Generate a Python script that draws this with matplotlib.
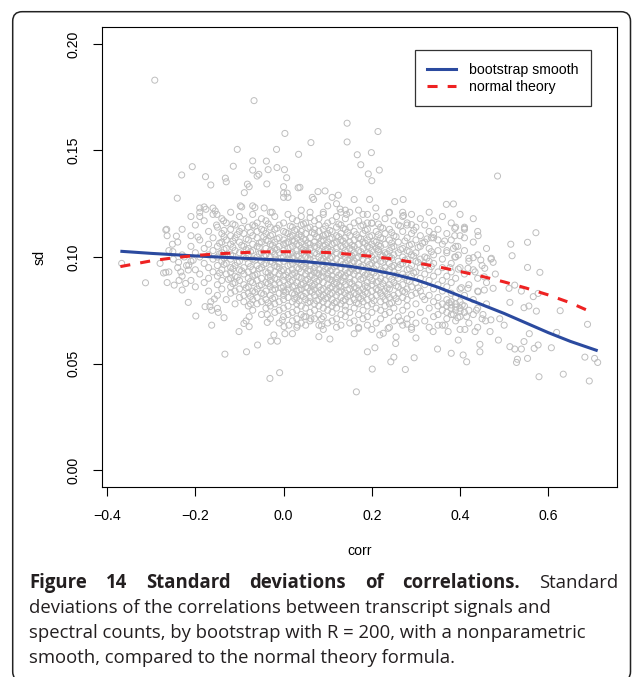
import matplotlib
matplotlib.use("Agg")
import matplotlib.pyplot as plt
from matplotlib.lines import Line2D
from matplotlib.patches import FancyBboxPatch
import numpy as np

plt.rcParams['font.family'] = ['Liberation Sans', 'DejaVu Sans']

# ---------------- data ----------------
# sparse points above the cloud (corr, sd)
upper_pts = [
    (-0.292, 0.183), (-0.067, 0.1734), (0.144, 0.1628), (0.003, 0.158), (0.062, 0.1537),
    (0.144, 0.154), (-0.105, 0.1505), (-0.016, 0.1505), (0.034, 0.1482), (0.167, 0.148),
    (-0.207, 0.1424), (-0.231, 0.1385), (-0.241, 0.1276), (-0.114, 0.1426), (-0.070, 0.1451),
    (-0.039, 0.145), (-0.070, 0.1408), (-0.035, 0.141), (-0.015, 0.142), (0.002, 0.141),
    (-0.056, 0.1388), (-0.060, 0.138), (0.007, 0.1372), (-0.177, 0.1377), (-0.165, 0.1338),
    (-0.132, 0.137), (-0.130, 0.1353), (-0.082, 0.1342), (-0.078, 0.133), (-0.038, 0.1343),
    (-0.089, 0.1302), (0.0, 0.133), (0.033, 0.1325), (0.037, 0.1327), (0.0, 0.130),
    (0.0, 0.128), (0.008, 0.130), (0.010, 0.128), (-0.190, 0.123), (-0.180, 0.1235),
    (-0.160, 0.123), (-0.190, 0.119), (-0.151, 0.120), (-0.136, 0.117), (-0.152, 0.115),
    (-0.265, 0.113), (-0.098, 0.124), (-0.095, 0.1235), (-0.070, 0.124), (-0.065, 0.1232),
    (-0.044, 0.123), (-0.026, 0.121), (0.065, 0.128), (0.068, 0.127), (0.078, 0.1307),
    (0.094, 0.131), (0.110, 0.128), (0.124, 0.129), (0.120, 0.125), (0.128, 0.1225),
    (0.130, 0.121), (0.140, 0.122), (0.143, 0.120), (0.160, 0.127), (0.090, 0.121),
    (0.100, 0.124), (0.040, 0.122), (0.060, 0.1185), (-0.176, 0.1224), (-0.155, 0.1216),
    (0.469, 0.1944), (0.214, 0.1589), (0.199, 0.149), (0.175, 0.1433), (0.217, 0.1408),
    (0.192, 0.139), (0.200, 0.1358), (0.485, 0.138), (0.195, 0.127), (0.271, 0.127),
    (0.252, 0.126), (0.209, 0.123), (0.239, 0.1208), (0.270, 0.121), (0.272, 0.1195),
    (0.369, 0.1247), (0.385, 0.1249), (0.180, 0.120), (0.190, 0.116), (0.200, 0.1158),
    (0.280, 0.115), (0.290, 0.1152), (0.390, 0.114), (0.410, 0.1135), (0.170, 0.122),
]

# sparse points left of and below the cloud
left_low_pts = [
    (-0.267, 0.1127), (-0.264, 0.110), (-0.243, 0.1098), (-0.194, 0.1094), (-0.252, 0.106),
    (-0.251, 0.1025), (-0.367, 0.097), (-0.313, 0.0879), (-0.267, 0.0928), (-0.264, 0.088),
    (-0.248, 0.0868), (-0.237, 0.089), (-0.230, 0.0845), (-0.222, 0.0876), (-0.233, 0.093),
    (-0.216, 0.0939), (-0.216, 0.0787), (-0.199, 0.0723), (-0.178, 0.0767), (-0.165, 0.079),
    (-0.167, 0.0767), (-0.163, 0.075), (-0.150, 0.0759), (-0.148, 0.074), (-0.135, 0.0715),
    (-0.163, 0.068), (-0.157, 0.0803), (-0.101, 0.065), (-0.090, 0.0688), (-0.085, 0.070),
    (-0.078, 0.072), (-0.078, 0.0673), (-0.133, 0.0544), (-0.084, 0.0555), (-0.059, 0.0587),
    (-0.031, 0.043), (-0.009, 0.0457), (-0.029, 0.0605), (-0.014, 0.0605), (-0.022, 0.0634),
    (-0.037, 0.0693), (-0.037, 0.073), (-0.003, 0.0704), (0.001, 0.0673), (0.003, 0.064),
    (0.020, 0.064), (0.012, 0.068), (0.031, 0.068), (0.050, 0.068), (0.046, 0.072),
    (0.062, 0.071), (0.080, 0.0626), (0.105, 0.0615), (0.086, 0.0677), (0.086, 0.071),
    (0.160, 0.064), (0.170, 0.0665), (0.165, 0.0367), (-0.075, 0.078), (-0.238, 0.0975),
    (-0.215, 0.0962), (-0.205, 0.0985), (-0.225, 0.100), (-0.272, 0.0925),
]

# sparse points right of and below the cloud
right_low_pts = [
    (0.572, 0.1114), (0.553, 0.1069), (0.515, 0.106), (0.518, 0.1006), (0.553, 0.0951),
    (0.581, 0.0928), (0.441, 0.110), (0.410, 0.113), (0.388, 0.1134), (0.388, 0.110),
    (0.410, 0.109), (0.340, 0.1106), (0.335, 0.109), (0.350, 0.108), (0.365, 0.1075),
    (0.370, 0.103), (0.385, 0.104), (0.395, 0.105), (0.396, 0.1009), (0.388, 0.100),
    (0.420, 0.0994), (0.430, 0.0997), (0.447, 0.0986), (0.471, 0.0994), (0.475, 0.0975),
    (0.456, 0.0947), (0.377, 0.095), (0.396, 0.0943), (0.418, 0.0947), (0.434, 0.093),
    (0.455, 0.0907), (0.475, 0.0853), (0.455, 0.0845), (0.441, 0.0837), (0.418, 0.0853),
    (0.403, 0.0856), (0.511, 0.0853), (0.524, 0.0868), (0.539, 0.084), (0.566, 0.0814),
    (0.577, 0.0829), (0.513, 0.0787), (0.545, 0.0762), (0.556, 0.077), (0.573, 0.0746),
    (0.627, 0.0748), (0.689, 0.0684), (0.619, 0.0646), (0.557, 0.064), (0.545, 0.0603),
    (0.577, 0.0587), (0.568, 0.0571), (0.607, 0.0574), (0.513, 0.0579), (0.524, 0.0568),
    (0.539, 0.0568), (0.530, 0.052), (0.528, 0.0505), (0.553, 0.0524), (0.683, 0.053),
    (0.705, 0.0524), (0.712, 0.0505), (0.634, 0.045), (0.579, 0.0438), (0.693, 0.0418),
    (0.349, 0.0568), (0.380, 0.0548), (0.407, 0.054), (0.415, 0.0508), (0.445, 0.0555),
    (0.445, 0.059), (0.468, 0.065), (0.487, 0.061), (0.296, 0.0527), (0.250, 0.053),
    (0.243, 0.0508), (0.201, 0.0474), (0.276, 0.0472), (0.190, 0.0555), (0.207, 0.0574),
    (0.254, 0.0594), (0.237, 0.0665), (0.226, 0.0642), (0.218, 0.0634), (0.490, 0.071),
    (0.500, 0.068), (0.434, 0.065), (0.411, 0.066), (0.396, 0.061), (0.373, 0.065),
    (0.339, 0.065), (0.350, 0.068), (0.366, 0.068), (0.437, 0.075), (0.452, 0.073),
    (0.458, 0.070), (0.470, 0.0705), (0.265, 0.070), (0.280, 0.0685), (0.290, 0.067),
    (0.300, 0.062), (0.255, 0.0625), (0.380, 0.0775), (0.390, 0.0765), (0.400, 0.0745),
    (0.385, 0.073), (0.405, 0.0775), (0.415, 0.072), (0.395, 0.0715),
]

# dense cloud, one row per sd level: (sd, [corr values])
core_rows = [
    (0.121, [-0.19, -0.12, -0.03, 0.06, 0.15, 0.24, 0.33]),
    (0.120, [-0.16, -0.07, 0.01, 0.09, 0.19, 0.29, 0.40]),
    (0.119, [-0.21, -0.10, -0.02, 0.04, 0.12, 0.21, 0.27, 0.36]),
    (0.118, [-0.14, -0.05, 0.02, 0.08, 0.14, 0.23, 0.31, 0.43]),
    (0.117, [-0.18, -0.09, -0.04, 0.03, 0.07, 0.11, 0.17, 0.25, 0.34]),
    (0.116, [-0.13, -0.06, 0.00, 0.05, 0.10, 0.16, 0.20, 0.28, 0.38]),
    (0.115, [-0.20, -0.11, -0.07, -0.01, 0.04, 0.08, 0.13, 0.18, 0.26, 0.32]),
    (0.114, [-0.15, -0.08, -0.03, 0.02, 0.06, 0.12, 0.15, 0.22, 0.30, 0.41]),
    (0.113, [-0.23, -0.12, -0.05, -0.02, 0.03, 0.07, 0.09, 0.14, 0.19, 0.24, 0.35]),
    (0.112, [-0.17, -0.10, -0.06, 0.00, 0.04, 0.08, 0.11, 0.16, 0.21, 0.27, 0.33, 0.44]),
    (0.111, [-0.14, -0.09, -0.04, 0.01, 0.05, 0.07, 0.10, 0.13, 0.18, 0.23, 0.29, 0.37]),
    (0.110, [-0.21, -0.12, -0.07, -0.03, 0.02, 0.04, 0.09, 0.12, 0.15, 0.20, 0.25, 0.31, 0.40]),
    (0.109, [-0.16, -0.11, -0.06, -0.01, 0.03, 0.06, 0.08, 0.11, 0.14, 0.17, 0.22, 0.28, 0.34]),
    (0.108, [-0.19, -0.13, -0.08, -0.04, 0.00, 0.02, 0.05, 0.09, 0.13, 0.16, 0.19, 0.24, 0.30, 0.38]),
    (0.107, [-0.24, -0.14, -0.10, -0.05, -0.02, 0.01, 0.04, 0.07, 0.10, 0.12, 0.15, 0.18, 0.21, 0.26, 0.32, 0.43]),
    (0.106, [-0.17, -0.12, -0.07, -0.03, 0.00, 0.03, 0.06, 0.08, 0.11, 0.14, 0.17, 0.20, 0.23, 0.29, 0.36]),
    (0.105, [-0.21, -0.15, -0.09, -0.06, -0.01, 0.02, 0.05, 0.07, 0.09, 0.13, 0.16, 0.19, 0.22, 0.25, 0.31, 0.39]),
    (0.104, [-0.18, -0.13, -0.08, -0.04, -0.02, 0.01, 0.04, 0.06, 0.10, 0.12, 0.15, 0.18, 0.21, 0.27, 0.33, 0.46]),
    (0.103, [-0.26, -0.16, -0.11, -0.07, -0.03, 0.00, 0.03, 0.05, 0.08, 0.11, 0.14, 0.17, 0.20, 0.24, 0.28, 0.35, 0.41]),
    (0.102, [-0.20, -0.14, -0.10, -0.05, -0.01, 0.02, 0.04, 0.07, 0.09, 0.12, 0.16, 0.19, 0.23, 0.26, 0.30, 0.37]),
    (0.101, [-0.23, -0.17, -0.12, -0.08, -0.04, -0.02, 0.01, 0.03, 0.06, 0.10, 0.13, 0.15, 0.18, 0.22, 0.25, 0.29, 0.34, 0.44]),
    (0.100, [-0.19, -0.15, -0.09, -0.06, -0.03, 0.00, 0.02, 0.05, 0.08, 0.11, 0.14, 0.17, 0.20, 0.24, 0.27, 0.32, 0.39]),
    (0.099, [-0.25, -0.16, -0.12, -0.07, -0.02, 0.01, 0.04, 0.06, 0.09, 0.12, 0.15, 0.18, 0.21, 0.23, 0.28, 0.31, 0.36, 0.47]),
    (0.098, [-0.21, -0.14, -0.10, -0.05, -0.03, 0.00, 0.03, 0.07, 0.10, 0.13, 0.16, 0.19, 0.22, 0.26, 0.30, 0.33, 0.42]),
    (0.097, [-0.28, -0.18, -0.13, -0.08, -0.04, -0.01, 0.02, 0.05, 0.08, 0.11, 0.14, 0.17, 0.20, 0.24, 0.27, 0.34, 0.38]),
    (0.096, [-0.22, -0.15, -0.11, -0.06, -0.02, 0.01, 0.04, 0.06, 0.09, 0.12, 0.15, 0.18, 0.21, 0.25, 0.29, 0.32, 0.45]),
    (0.095, [-0.24, -0.17, -0.12, -0.09, -0.05, -0.01, 0.03, 0.05, 0.07, 0.10, 0.13, 0.16, 0.19, 0.23, 0.26, 0.31, 0.36, 0.40]),
    (0.094, [-0.20, -0.14, -0.10, -0.07, -0.03, 0.00, 0.02, 0.06, 0.08, 0.11, 0.14, 0.17, 0.22, 0.24, 0.28, 0.33, 0.43]),
    (0.093, [-0.26, -0.16, -0.12, -0.08, -0.04, -0.02, 0.01, 0.04, 0.07, 0.09, 0.12, 0.15, 0.18, 0.20, 0.25, 0.30, 0.35, 0.38]),
    (0.092, [-0.19, -0.13, -0.09, -0.06, -0.01, 0.02, 0.05, 0.08, 0.10, 0.13, 0.16, 0.19, 0.23, 0.27, 0.32, 0.41, 0.48]),
    (0.091, [-0.23, -0.15, -0.11, -0.07, -0.03, 0.00, 0.03, 0.06, 0.09, 0.11, 0.14, 0.17, 0.21, 0.24, 0.29, 0.34, 0.37]),
    (0.090, [-0.17, -0.12, -0.08, -0.05, -0.02, 0.01, 0.04, 0.07, 0.10, 0.12, 0.15, 0.18, 0.22, 0.26, 0.31, 0.39, 0.44]),
    (0.089, [-0.21, -0.14, -0.10, -0.06, -0.03, 0.00, 0.02, 0.05, 0.08, 0.11, 0.13, 0.16, 0.20, 0.23, 0.28, 0.33, 0.36]),
    (0.088, [-0.18, -0.11, -0.07, -0.04, -0.01, 0.03, 0.06, 0.09, 0.12, 0.15, 0.19, 0.21, 0.25, 0.30, 0.38, 0.46]),
    (0.087, [-0.15, -0.09, -0.05, -0.02, 0.01, 0.04, 0.07, 0.10, 0.14, 0.17, 0.20, 0.24, 0.27, 0.32, 0.35, 0.42]),
    (0.086, [-0.20, -0.12, -0.08, -0.03, 0.00, 0.02, 0.05, 0.08, 0.11, 0.13, 0.16, 0.19, 0.22, 0.26, 0.29, 0.37]),
    (0.085, [-0.14, -0.10, -0.06, -0.02, 0.01, 0.04, 0.07, 0.09, 0.12, 0.15, 0.18, 0.21, 0.24, 0.28, 0.34, 0.40]),
    (0.084, [-0.17, -0.11, -0.07, -0.04, 0.00, 0.03, 0.06, 0.10, 0.13, 0.17, 0.20, 0.23, 0.27, 0.31, 0.36, 0.44]),
    (0.083, [-0.12, -0.08, -0.05, -0.01, 0.02, 0.05, 0.08, 0.11, 0.14, 0.16, 0.19, 0.22, 0.26, 0.30, 0.38]),
    (0.082, [-0.15, -0.09, -0.03, 0.00, 0.04, 0.07, 0.09, 0.12, 0.15, 0.18, 0.21, 0.25, 0.29, 0.33, 0.41]),
    (0.081, [-0.10, -0.06, -0.02, 0.01, 0.03, 0.06, 0.10, 0.13, 0.17, 0.20, 0.24, 0.27, 0.35, 0.39]),
    (0.080, [-0.13, -0.07, -0.04, 0.00, 0.05, 0.08, 0.11, 0.14, 0.16, 0.19, 0.23, 0.28, 0.32, 0.37, 0.43]),
    (0.079, [-0.09, -0.05, -0.01, 0.02, 0.06, 0.09, 0.12, 0.15, 0.18, 0.22, 0.26, 0.34, 0.38, 0.40]),
    (0.078, [-0.11, -0.06, -0.02, 0.03, 0.07, 0.10, 0.13, 0.17, 0.20, 0.24, 0.30, 0.36, 0.39, 0.46]),
    (0.077, [-0.08, -0.03, 0.01, 0.04, 0.08, 0.11, 0.14, 0.19, 0.23, 0.28, 0.35, 0.37, 0.41]),
    (0.076, [-0.04, 0.00, 0.05, 0.09, 0.12, 0.16, 0.21, 0.25, 0.33, 0.38, 0.40, 0.44]),
    (0.075, [-0.07, -0.01, 0.03, 0.07, 0.10, 0.14, 0.18, 0.22, 0.27, 0.36, 0.39, 0.42]),
    (0.074, [-0.02, 0.02, 0.06, 0.11, 0.15, 0.20, 0.24, 0.31, 0.37, 0.41]),
    (0.073, [-0.05, 0.01, 0.04, 0.08, 0.13, 0.17, 0.23, 0.29, 0.35, 0.38, 0.43]),
    (0.072, [0.00, 0.05, 0.09, 0.14, 0.19, 0.26, 0.34, 0.40]),
    (0.071, [-0.03, 0.03, 0.07, 0.12, 0.18, 0.22, 0.28, 0.37, 0.45]),
    (0.070, [0.02, 0.06, 0.11, 0.16, 0.25, 0.32, 0.39]),
    (0.069, [-0.01, 0.04, 0.10, 0.15, 0.21, 0.30, 0.42]),
    (0.068, [0.08, 0.13, 0.19, 0.27, 0.36]),
    (0.067, [0.03, 0.12, 0.17, 0.24, 0.33, 0.44]),
    (0.066, [0.09, 0.20, 0.29, 0.40]),
]

# densest centre of the cloud, rows between the ones above
core_rows_mid = [
    (0.1155, [-0.115, -0.035, 0.045, 0.125, 0.215]),
    (0.1145, [-0.065, 0.015, 0.095, 0.175, 0.265]),
    (0.1135, [-0.095, -0.015, 0.055, 0.135, 0.225]),
    (0.1125, [-0.135, -0.045, 0.025, 0.105, 0.185, 0.295]),
    (0.1115, [-0.075, 0.005, 0.065, 0.145, 0.245]),
    (0.1105, [-0.105, -0.025, 0.035, 0.095, 0.165, 0.215]),
    (0.1095, [-0.135, -0.045, 0.015, 0.075, 0.125, 0.195, 0.255]),
    (0.1085, [-0.085, -0.015, 0.045, 0.105, 0.175, 0.225, 0.325]),
    (0.1075, [-0.115, -0.035, 0.025, 0.085, 0.135, 0.205, 0.275]),
    (0.1065, [-0.145, -0.055, 0.005, 0.055, 0.115, 0.185, 0.245, 0.315]),
    (0.1055, [-0.095, -0.025, 0.035, 0.095, 0.155, 0.215, 0.285]),
    (0.1045, [-0.115, -0.055, 0.015, 0.075, 0.135, 0.195, 0.245, 0.305]),
    (0.1035, [-0.135, -0.085, -0.015, 0.045, 0.095, 0.155, 0.215, 0.265]),
    (0.1025, [-0.075, -0.025, 0.055, 0.105, 0.175, 0.215, 0.285, 0.335]),
    (0.1015, [-0.145, -0.055, 0.015, 0.075, 0.135, 0.195, 0.235]),
    (0.1005, [-0.115, -0.045, 0.035, 0.095, 0.155, 0.225, 0.295]),
    (0.0995, [-0.135, -0.085, -0.005, 0.055, 0.105, 0.165, 0.245, 0.325]),
    (0.0985, [-0.065, 0.015, 0.085, 0.145, 0.205, 0.275]),
    (0.0975, [-0.105, -0.025, 0.035, 0.095, 0.155, 0.225, 0.305]),
    (0.0965, [-0.135, -0.045, 0.015, 0.075, 0.135, 0.195, 0.265]),
    (0.0955, [-0.075, -0.015, 0.045, 0.115, 0.175, 0.245, 0.335]),
    (0.0945, [-0.115, -0.055, 0.035, 0.095, 0.155, 0.205, 0.285]),
    (0.0935, [-0.095, -0.005, 0.055, 0.105, 0.165, 0.225]),
    (0.0925, [-0.145, -0.035, 0.025, 0.075, 0.145, 0.205, 0.295]),
    (0.0915, [-0.065, 0.005, 0.065, 0.125, 0.185, 0.255]),
    (0.0905, [-0.105, -0.035, 0.035, 0.085, 0.135, 0.195, 0.275]),
    (0.0895, [-0.125, -0.015, 0.055, 0.105, 0.175, 0.245]),
    (0.0885, [-0.075, 0.015, 0.075, 0.135, 0.215, 0.285]),
    (0.0875, [-0.115, -0.035, 0.045, 0.115, 0.155, 0.225]),
    (0.0865, [-0.055, 0.025, 0.065, 0.125, 0.185, 0.255]),
    (0.0855, [-0.085, -0.005, 0.055, 0.105, 0.165, 0.235, 0.305]),
    (0.0845, [-0.025, 0.035, 0.085, 0.145, 0.215]),
    (0.0835, [-0.065, 0.005, 0.065, 0.125, 0.185, 0.275]),
    (0.0825, [-0.045, 0.025, 0.105, 0.165, 0.235]),
    (0.0815, [-0.075, 0.045, 0.085, 0.145, 0.225, 0.315]),
    (0.0805, [-0.025, 0.025, 0.095, 0.175, 0.255]),
    (0.0795, [0.035, 0.075, 0.135, 0.205]),
    (0.0785, [-0.035, 0.055, 0.115, 0.165, 0.245, 0.375]),
]

# bootstrap smooth (blue solid) and normal theory (red dashed)
smooth_corr = [-0.37, -0.30, -0.20, -0.10, 0.00, 0.05, 0.10, 0.15, 0.20, 0.25,
               0.30, 0.35, 0.40, 0.45, 0.50, 0.55, 0.60, 0.65, 0.712]
smooth_sd = [0.1027, 0.1017, 0.1005, 0.0995, 0.0985, 0.0978, 0.0968, 0.0956, 0.0940, 0.0919,
             0.0893, 0.0858, 0.0817, 0.0776, 0.0735, 0.0690, 0.0645, 0.0604, 0.0560]
theory_corr = [-0.37, -0.30, -0.25, -0.20, -0.15, -0.10, -0.05, 0.00, 0.05, 0.10, 0.15,
               0.20, 0.25, 0.30, 0.35, 0.40, 0.45, 0.50, 0.55, 0.60, 0.65, 0.696]
theory_sd = [0.0955, 0.0982, 0.0996, 0.1007, 0.1015, 0.1020, 0.1024, 0.1025, 0.1024, 0.1021, 0.1013,
             0.1003, 0.0990, 0.0973, 0.0954, 0.0932, 0.0909, 0.0883, 0.0854, 0.0822, 0.0785, 0.0743]

x_ticks = [-0.4, -0.2, 0.0, 0.2, 0.4, 0.6]
x_ticklabels = ["\u22120.4", "\u22120.2", "0.0", "0.2", "0.4", "0.6"]
y_ticks = [0.00, 0.05, 0.10, 0.15, 0.20]
y_ticklabels = ["0.00", "0.05", "0.10", "0.15", "0.20"]
legend_labels = ["bootstrap smooth", "normal theory"]
caption_bold = "Figure 14 Standard deviations of correlations."
caption_lines = [
    "Standard",
    "deviations of the correlations between transcript signals and",
    "spectral counts, by bootstrap with R = 200, with a nonparametric",
    "smooth, compared to the normal theory formula.",
]

# ---------------- assemble points ----------------
sparse = upper_pts + left_low_pts + right_low_pts
corr = [p[0] for p in sparse]
sd = [p[1] for p in sparse]
for level, xs in core_rows + core_rows_mid:
    corr.extend(xs)
    sd.extend([level] * len(xs))

# ---------------- figure ----------------
W, H = 632, 677
fig = plt.figure(figsize=(W / 100, H / 100), dpi=100)

# outer rounded frame
frame = FancyBboxPatch((12.7 / W, -4 / H), (630.5 - 12.7) / W, (677 + 4 - 11.7) / H,
                       boxstyle="round,pad=0,rounding_size=0.015",
                       transform=fig.transFigure, fill=False, edgecolor="#222222",
                       linewidth=1.1, mutation_aspect=W / H)
fig.patches.append(frame)

L, R, T, B = 101.7, 617.0, 26.7, 487.3
ax = fig.add_axes([L / W, 1 - B / H, (R - L) / W, (B - T) / H])

ax.scatter(corr, sd, s=19, facecolors="none", edgecolors="#BEBEBE", linewidths=0.7, zorder=2)
ax.plot(smooth_corr, smooth_sd, color="#2B4A9F", lw=2.2, zorder=3, solid_capstyle="butt")
ax.plot(theory_corr, theory_sd, color="#EE2222", lw=2.2, zorder=4,
        linestyle=(0, (3.3, 3.3)), dash_capstyle="butt")

ax.set_xlim(-0.4123, 0.7558)
ax.set_ylim(-0.0081, 0.2081)

ax.set_xticks(x_ticks)
ax.set_xticklabels(x_ticklabels)
ax.set_yticks(y_ticks)
ax.set_yticklabels(y_ticklabels, rotation=90, va="center")
ax.tick_params(axis="both", direction="out", length=6.6, width=0.8, labelsize=10.2, color="black")
ax.tick_params(axis="x", pad=9.0)
ax.tick_params(axis="y", pad=9.0)
for sp in ax.spines.values():
    sp.set_linewidth(0.8)

ax.set_xlabel("corr", fontsize=10.2)
ax.set_ylabel("sd", fontsize=10.2)
ax.xaxis.set_label_coords(0.5, -(550.7 - B) / (B - T), transform=ax.transAxes)
ax.yaxis.set_label_coords(-(L - 40) / (R - L), 0.5, transform=ax.transAxes)
ax.xaxis.label.set_va("center")
ax.yaxis.label.set_va("center")

handles = [Line2D([], [], color="#2B4A9F", lw=2.2),
           Line2D([], [], color="#EE2222", lw=2.2, linestyle=(0, (3.3, 3.3)), dash_capstyle="butt")]
leg = ax.legend(handles, legend_labels, loc="upper left",
                bbox_to_anchor=((414.7 - L) / (R - L), 1 - (50 - T) / (B - T)),
                borderaxespad=0, frameon=True, fancybox=False, framealpha=1,
                edgecolor="#333333", fontsize=10.2, handlelength=2.0, handletextpad=0.95,
                borderpad=0.9, labelspacing=0.2)
leg.get_frame().set_linewidth(0.9)

# ---------------- caption ----------------
fig.canvas.draw()
rend = fig.canvas.get_renderer()
cap_font = ["Open Sans", "DejaVu Sans"]
cap_color = "#231F20"


def width_px(s, size, weight="normal"):
    t = fig.text(0, 0, s, fontsize=size, family=cap_font, fontweight=weight)
    w = t.get_window_extent(rend).width
    t.remove()
    return w


base = 13.0
w2 = width_px(caption_lines[1], base)
cap_size = base * (548.3 - 29.3) / w2

x_left, x_right = 29.3, 618.3
baselines = [588.0, 613.0, 638.0, 663.0]

# line 1: justified, bold words then one regular word
words = [(w, "bold") for w in caption_bold.split()] + [(caption_lines[0], "normal")]
widths = [width_px(w, cap_size, wt) for w, wt in words]
gap = (x_right - x_left - sum(widths)) / (len(words) - 1)
xpos = x_left
for (w, wt), ww in zip(words, widths):
    fig.text(xpos / W, 1 - baselines[0] / H, w, fontsize=cap_size, family=cap_font,
             fontweight=wt, color=cap_color, ha="left", va="baseline")
    xpos += ww + gap

for line, yb in zip(caption_lines[1:], baselines[1:]):
    fig.text(x_left / W, 1 - yb / H, line, fontsize=cap_size, family=cap_font,
             color=cap_color, ha="left", va="baseline")

fig.savefig("out.png", dpi=100)
